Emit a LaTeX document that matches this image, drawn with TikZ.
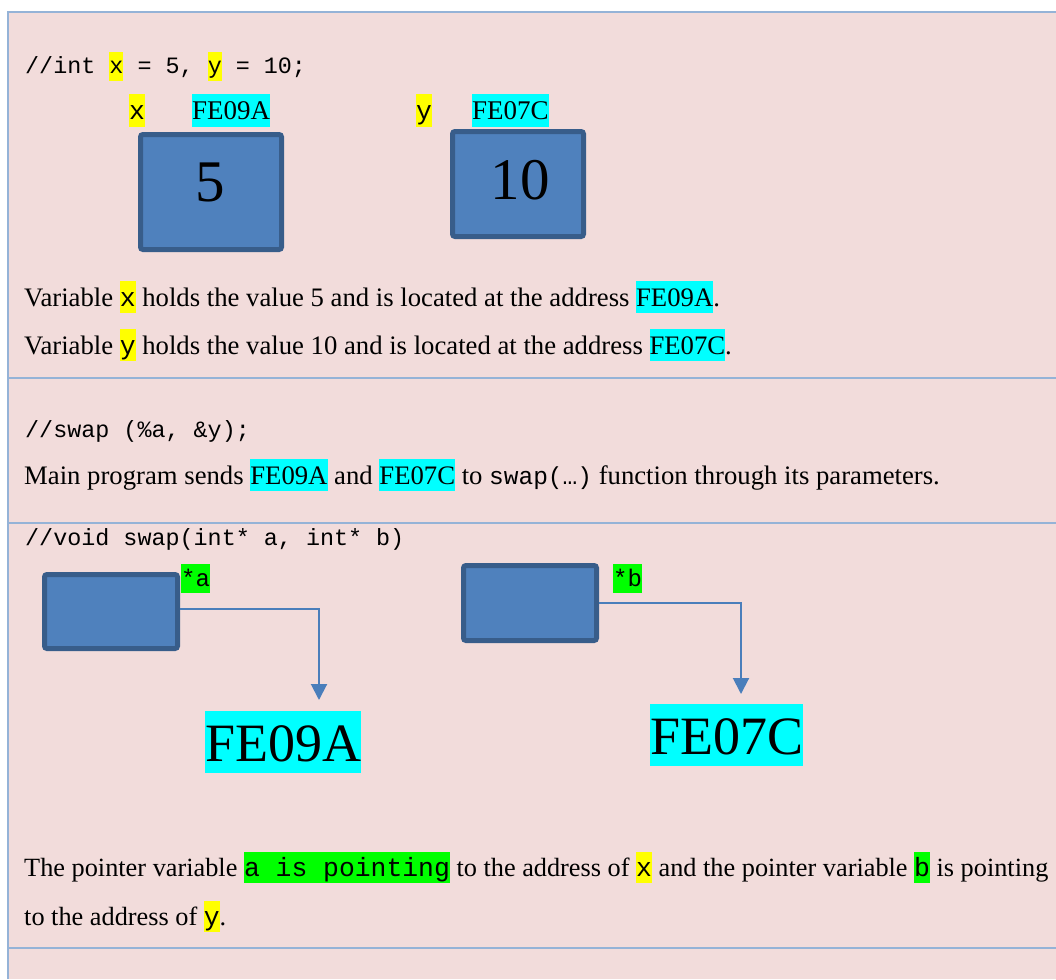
\documentclass[tikz,border=0pt]{standalone}
\usepackage{fontspec}
\setmainfont{Liberation Serif}
\setmonofont{Liberation Mono}
\usetikzlibrary{arrows.meta}
\definecolor{pinkbg}{HTML}{F2DCDB}
\definecolor{framec}{HTML}{95B3D7}
\definecolor{boxfill}{HTML}{4F81BD}
\definecolor{boxline}{HTML}{385D8A}
\definecolor{arrowc}{HTML}{4A7EBB}
\definecolor{hlyellow}{HTML}{FFFF00}
\definecolor{hlcyan}{HTML}{00FFFF}
\definecolor{hlgreen}{HTML}{00FF00}
\newcommand{\hl}[3][0.28em]{{\setlength{\fboxsep}{0pt}\colorbox{#2}{\rule[-#1]{0pt}{\dimexpr 0.92em+#1\relax}#3}}}
\newcommand{\cd}[1]{{\ttfamily\fontsize{26.4}{30}\selectfont #1}}
\newcommand{\cds}[1]{{\ttfamily\fontsize{24.5}{30}\selectfont #1}}
\begin{document}
\begin{tikzpicture}[x=1pt,y=-1pt,
  body/.style={anchor=base west, inner sep=0pt, font=\fontsize{26.7}{32}\selectfont},
  bodytight/.style={anchor=base west, inner sep=0pt, font=\fontsize{26.3}{32}\selectfont},
  codeline/.style={anchor=base west, inner sep=0pt, font=\ttfamily\fontsize{23.4}{28}\selectfont},
  lbl/.style={anchor=base west, inner sep=0pt, font=\fontsize{27}{32}\selectfont},
  ptrlbl/.style={anchor=base west, inner sep=0pt, font=\ttfamily\fontsize{24}{28}\selectfont},
  bigaddr/.style={anchor=base west, inner sep=0pt, font=\fontsize{54}{60}\selectfont},
  bignum/.style={inner sep=0pt, font=\fontsize{59}{64}\selectfont},
  membox/.style={draw=boxline, fill=boxfill, line width=5pt, rounded corners=2.5pt, inner sep=0pt},
  framerule/.style={draw=framec, line width=2pt},
  ptr/.style={draw=arrowc, line width=2pt, -{Triangle[width=16pt,length=16pt]}}
]
\useasboundingbox (0,0) rectangle (1056,979);
\fill[white] (0,0) rectangle (1056,979);
\fill[pinkbg] (8,12) rectangle (1056,979);
\draw[framerule] (8,979) -- (8,12) -- (1056,12);
\draw[framerule] (8,378) -- (1056,378);
\draw[framerule] (8,523) -- (1056,523);
\draw[framerule] (8,948) -- (1056,948);

% section 1
\node[codeline] (decl) at (25,74) {//int \hl{hlyellow}{x} = 5, \hl{hlyellow}{y} = 10;};
\node[lbl] (lx) at (129,119) {\hl{hlyellow}{\cd{x}}};
\node[lbl] (ax) at (192,119) {\hl{hlcyan}{FE09A}};
\node[lbl] (ly) at (416,119) {\hl{hlyellow}{\cd{y}}};
\node[lbl] (ay) at (472,119) {\hl{hlcyan}{FE07C}};
\node[membox, minimum width=141pt, minimum height=115pt] (bx) at (211,192) {};
\node[membox, minimum width=131pt, minimum height=105pt] (by) at (518,184) {};
\node[bignum] (vx) at (210.5,182) {5};
\node[bignum] (vy) at (520,180) {10};
\node[body] (t1) at (24,306) {Variable \hl{hlyellow}{\cd{x}} holds the value 5 and is located at the address \hl{hlcyan}{FE09A}.};
\node[body] (t2) at (24,354) {Variable \hl{hlyellow}{\cd{y}} holds the value 10 and is located at the address \hl{hlcyan}{FE07C}.};

% section 2
\node[codeline] (call) at (25,437) {//swap (\%a, \&y);};
\node[body] (t3) at (24,484) {Main program sends \hl{hlcyan}{FE09A} and \hl{hlcyan}{FE07C} to \cds{swap(…)} function through its parameters.};

% section 3
\node[codeline] (sig) at (25,545) {//void swap(int* a, int* b)};
\node[membox, minimum width=133pt, minimum height=74pt] (ba) at (111,611.5) {};
\node[membox, minimum width=133pt, minimum height=75pt] (bb) at (530,603) {};
\node[ptrlbl] (pa) at (181,586) {\hl{hlgreen}{*a}};
\node[ptrlbl] (pb) at (613,586) {\hl{hlgreen}{*b}};
\node[bigaddr] (fa) at (205,761) {\hl[0.22em]{hlcyan}{FE09A}};
\node[bigaddr] (fb) at (650,754) {\hl[0.22em]{hlcyan}{FE07C}};
\coordinate (tipA) at (319,700);
\coordinate (tipB) at (741,694);
\draw[ptr] ([yshift=2.5pt]ba.east) -| (tipA);
\draw[ptr] (bb.east) -| (tipB);
\node[bodytight] (t4) at (24,876) {The pointer variable \hl{hlgreen}{\cd{a is pointing}} to the address of \hl{hlyellow}{\cd{x}} and the pointer variable \hl{hlgreen}{\cd{b}} is pointing};
\node[bodytight] (t5) at (24,925) {to the address of \hl{hlyellow}{\cd{y}}.};
\end{tikzpicture}
\end{document}
